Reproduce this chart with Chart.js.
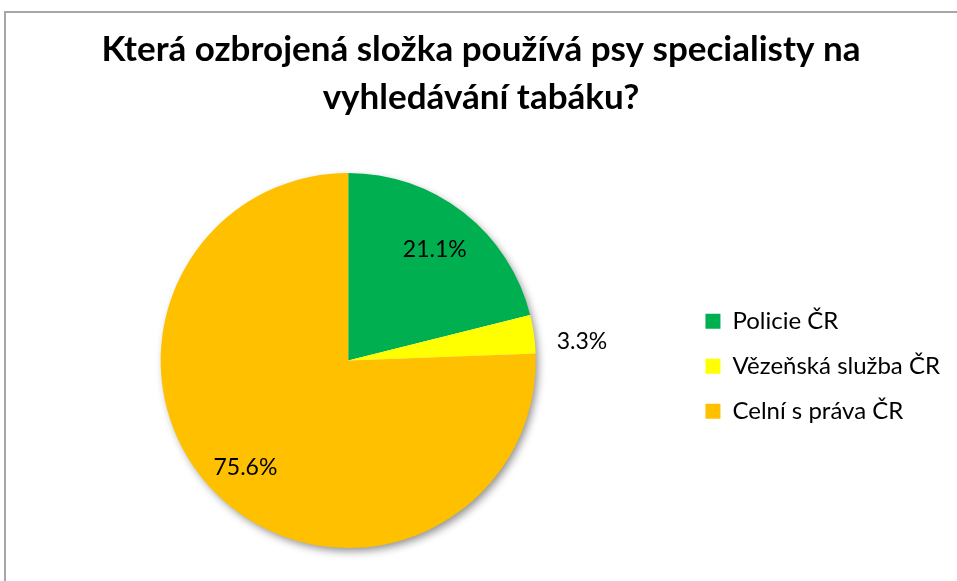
<!DOCTYPE html>
<html lang="cs">
<head>
    <meta charset="UTF-8">
    <title>Psi specialisté na vyhledávání tabáku</title>
    <script src="https://cdn.jsdelivr.net/npm/chart.js"></script>
    <style>
        * { margin: 0; padding: 0; box-sizing: border-box; }
        body { width: 957px; height: 581px; overflow: hidden; background: #fff; position: relative; }
        /* ramecek grafu presahuje okno vpravo a dole */
        .frame {
            position: absolute; left: 4px; top: 11px;
            width: 1100px; height: 700px;
            border: 2px solid #a6a6a6;
        }
        .wrap { position: absolute; left: 0; top: 0; width: 957px; height: 581px; }
    </style>
</head>
<body>
    <div class="frame"></div>
    <div class="wrap"><canvas id="pieChart"></canvas></div>

    <script>
        const labels = ['Policie ČR', 'Vězeňská služba ČR', 'Celní s práva ČR'];
        const values = [21.1, 3.3, 75.6];
        const colors = ['#00B050', '#FFFF00', '#FFC000'];
        const titleLines = ['Která ozbrojená složka používá psy specialisty na', 'vyhledávání tabáku?'];

        // stin pod kolacem
        const pieShadow = {
            id: 'pieShadow',
            beforeDatasetsDraw(chart) {
                const arc = chart.getDatasetMeta(0).data[0];
                if (!arc) return;
                const ctx = chart.ctx;
                ctx.save();
                ctx.shadowColor = 'rgba(0,0,0,0.45)';
                ctx.shadowBlur = 9;
                ctx.shadowOffsetX = 3;
                ctx.shadowOffsetY = 4;
                ctx.fillStyle = '#fff';
                ctx.beginPath();
                ctx.arc(arc.x, arc.y, arc.outerRadius - 1, 0, Math.PI * 2);
                ctx.fill();
                ctx.restore();
            }
        };

        // procenta u vysecí
        const pctLabels = {
            id: 'pctLabels',
            afterDatasetsDraw(chart) {
                const ctx = chart.ctx;
                const meta = chart.getDatasetMeta(0);
                ctx.save();
                ctx.font = '23px Lato, "Open Sans", sans-serif';
                ctx.fillStyle = '#000';
                ctx.textAlign = 'center';
                ctx.textBaseline = 'middle';
                meta.data.forEach((arc, i) => {
                    let mid = (arc.startAngle + arc.endAngle) / 2;
                    let f = 0.75;
                    if (values[i] < 5) { f = 1.25; mid = arc.startAngle + (arc.endAngle - arc.startAngle) * 0.8; }
                    if (values[i] > 50) f = 0.79;
                    const r = arc.outerRadius * f;
                    ctx.fillText(values[i].toFixed(1) + '%', arc.x + Math.cos(mid) * r, arc.y + Math.sin(mid) * r);
                });
                ctx.restore();
            }
        };

        new Chart(document.getElementById('pieChart'), {
            type: 'pie',
            data: {
                labels: labels,
                datasets: [{
                    data: values,
                    backgroundColor: colors,
                    borderWidth: 0
                }]
            },
            options: {
                responsive: true,
                maintainAspectRatio: false,
                animation: false,
                layout: { padding: { left: 12, right: 7, top: 0, bottom: 33 } },
                plugins: {
                    tooltip: { enabled: false },
                    title: {
                        display: true,
                        text: titleLines,
                        color: '#000',
                        font: { family: 'Lato, "Open Sans", sans-serif', size: 35, weight: 'bold', lineHeight: 1.37 },
                        padding: { top: 26, bottom: 51 }
                    },
                    legend: {
                        position: 'right',
                        title: { display: true, text: '', padding: 85 },
                        labels: {
                            boxWidth: 15,
                            boxHeight: 15,
                            padding: 21,
                            color: '#000',
                            font: { family: 'Lato, "Open Sans", sans-serif', size: 24 }
                        }
                    }
                }
            },
            plugins: [pieShadow, pctLabels]
        });
    </script>
</body>
</html>
